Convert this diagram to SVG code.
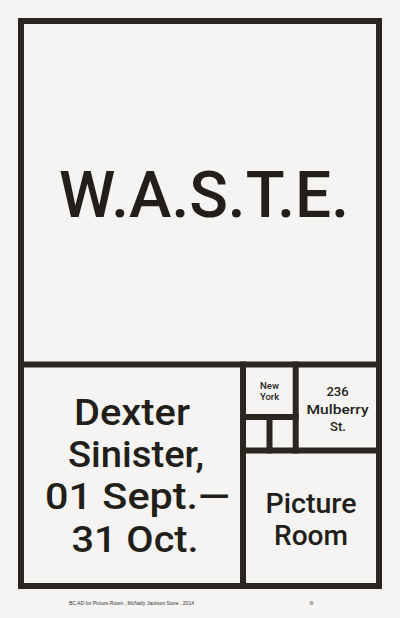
<svg xmlns="http://www.w3.org/2000/svg" width="400" height="618" viewBox="0 0 400 618">
<style>
.ln{stroke:#29271f;stroke-width:6;fill:none;stroke-linecap:square}
.t{font-family:Roboto,"Liberation Sans",Arial,sans-serif;font-weight:500;fill:#221f1b;text-anchor:middle}
.f{font-family:"Liberation Sans",Arial,sans-serif;fill:#333;font-size:4.6px}
</style>
<rect width="400" height="618" fill="#f5f4f2"/>
<g id="connectors">
<rect class="ln" x="21" y="21" width="358" height="565"/>
<line class="ln" x1="21" y1="364.5" x2="379" y2="364.5"/>
<line class="ln" x1="243" y1="364.5" x2="243" y2="586"/>
<line class="ln" x1="295.7" y1="364.5" x2="295.7" y2="450.5"/>
<line class="ln" x1="243" y1="417" x2="295.7" y2="417"/>
<line class="ln" x1="269.5" y1="417" x2="269.5" y2="450.5"/>
<line class="ln" x1="243" y1="450.5" x2="379" y2="450.5"/>
</g>
<g id="title">
<text class="t" x="204" y="216.7" font-size="64" textLength="290" lengthAdjust="spacingAndGlyphs">W.A.S.T.E.</text>
</g>
<g id="dates">
<text class="t" x="132" y="425" font-size="37" textLength="116" lengthAdjust="spacingAndGlyphs">Dexter</text>
<text class="t" x="136" y="467" font-size="37" textLength="136" lengthAdjust="spacingAndGlyphs">Sinister,</text>
<text class="t" x="137.5" y="509" font-size="37" textLength="185" lengthAdjust="spacingAndGlyphs">01 Sept.—</text>
<text class="t" x="135" y="551.5" font-size="37" textLength="127" lengthAdjust="spacingAndGlyphs">31 Oct.</text>
</g>
<g id="city">
<text class="t" x="269.5" y="389" font-size="9.5">New</text>
<text class="t" x="269.5" y="400" font-size="9.5">York</text>
</g>
<g id="street">
<text class="t" x="337.5" y="396" font-size="13">236</text>
<text class="t" x="337.5" y="413.5" font-size="13" textLength="62" lengthAdjust="spacingAndGlyphs">Mulberry</text>
<text class="t" x="338" y="430.5" font-size="13">St.</text>
</g>
<g id="venue">
<text class="t" x="311" y="513.3" font-size="28" textLength="91" lengthAdjust="spacingAndGlyphs">Picture</text>
<text class="t" x="311" y="545" font-size="28" textLength="74" lengthAdjust="spacingAndGlyphs">Room</text>
</g>
<g id="footer">
<text class="f" x="69" y="604.5" textLength="125" lengthAdjust="spacingAndGlyphs">BC AD for Picture Room , McNally Jackson Store , 2014</text>
<text class="f" x="309.5" y="604.5">III</text>
</g>
</svg>
